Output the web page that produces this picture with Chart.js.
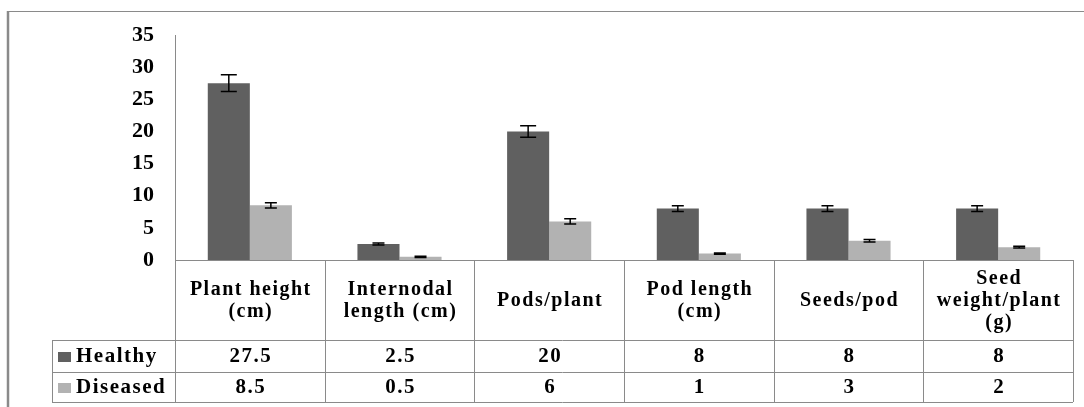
<!DOCTYPE html>
<html>
<head>
<meta charset="utf-8">
<script src="https://cdn.jsdelivr.net/npm/chart.js@4"></script>
<style>
  html,body{margin:0;padding:0;background:#fff;}
  #wrap{width:1084px;height:407px;position:relative;}
</style>
</head>
<body>
<div id="wrap"><canvas id="chart"></canvas></div>
<script>
// categories (header cells of the table, one array entry per line)
const categories=[['Plant height','(cm)'],['Internodal','length (cm)'],['Pods/plant'],['Pod length','(cm)'],['Seeds/pod'],['Seed','weight/plant','(g)']];
const seriesNames=['Healthy','Diseased'];
const healthy=[27.5,2.5,20,8,8,8];
const diseased=[8.5,0.5,6,1,3,2];
// error bar half-lengths
const healthyErr=[1.3,0.15,0.9,0.45,0.45,0.45];
const diseasedErr=[0.4,0.1,0.4,0.1,0.2,0.15];
const yTicks=[0,5,10,15,20,25,30,35];

const darkGray='#606060';
const lightGray='#b2b2b2';
const lineGray='#8a8a8a';
const serif='"Liberation Serif","Times New Roman",serif';

//draws the error bars on top of each bar
const errorBars={
  id:'errorBars',
  afterDatasetsDraw(chart){
    const ctx=chart.ctx;
    const y=chart.scales.y;
    const errs=[healthyErr,diseasedErr];
    ctx.save();
    ctx.strokeStyle='#000';
    ctx.lineWidth=1.5;
    chart.data.datasets.forEach((ds,i)=>{
      const meta=chart.getDatasetMeta(i);
      meta.data.forEach((bar,j)=>{
        const v=ds.data[j];
        const e=errs[i][j];
        const top=y.getPixelForValue(v+e);
        const bot=y.getPixelForValue(v-e);
        const cap=e>0.6?8:6;
        ctx.beginPath();
        ctx.moveTo(bar.x,top);ctx.lineTo(bar.x,bot);
        ctx.moveTo(bar.x-cap,top);ctx.lineTo(bar.x+cap,top);
        ctx.moveTo(bar.x-cap,bot);ctx.lineTo(bar.x+cap,bot);
        ctx.stroke();
      });
    });
    ctx.restore();
  }
};

//draws the data table under the plot, plus the outer frame
const dataTable={
  id:'dataTable',
  afterDraw(chart){
    const ctx=chart.ctx;
    const area=chart.chartArea;
    const x=chart.scales.x;
    const n=categories.length;
    const step=(area.right-area.left)/n;
    const headTop=area.bottom, headBot=340, row1=372, row2=402;
    const legLeft=52;
    ctx.save();
    ctx.strokeStyle=lineGray;
    ctx.lineWidth=1;
    const hl=(x1,x2,yy)=>{ctx.beginPath();ctx.moveTo(x1,yy+0.5);ctx.lineTo(x2,yy+0.5);ctx.stroke();};
    const vl=(xx,y1,y2)=>{ctx.beginPath();ctx.moveTo(Math.round(xx)+0.5,y1);ctx.lineTo(Math.round(xx)+0.5,y2);ctx.stroke();};
    hl(area.left,area.right,headTop);
    hl(legLeft,area.right,headBot);
    hl(legLeft,area.right,row1);
    hl(legLeft,area.right,row2);
    for(let i=0;i<=n;i++){
      vl(area.left+i*step,headTop,row2);
    }
    vl(legLeft,headBot,row2);

    ctx.fillStyle='#000';
    ctx.textAlign='center';
    ctx.textBaseline='middle';
    ctx.letterSpacing='1.5px';
    ctx.font='bold 20px '+serif;
    const midHead=(headTop+headBot)/2;
    categories.forEach((lines,i)=>{
      const cx=x.getPixelForValue(i);
      const lh=22;
      lines.forEach((t,k)=>{
        ctx.fillText(t,cx+1,midHead+(k-(lines.length-1)/2)*lh+1);
      });
    });
    const rows=[[healthy,headBot,row1],[diseased,row1,row2]];
    rows.forEach((r,ri)=>{
      const cy=(r[1]+r[2])/2+1;
      ctx.textAlign='center';
      ctx.font='bold 21px '+serif;
      r[0].forEach((v,i)=>{
        ctx.fillText(String(v),x.getPixelForValue(i)+1,cy);
      });
      ctx.fillStyle=ri===0?darkGray:lightGray;
      ctx.fillRect(58,Math.round(cy-5),13,10);
      ctx.fillStyle='#000';
      ctx.textAlign='left';
      ctx.font='bold 21px '+serif;
      ctx.fillText(seriesNames[ri],76,cy);
    });

    // outer frame
    ctx.strokeStyle=lineGray;
    ctx.lineWidth=1;
    hl(8,1084,11);
    ctx.lineWidth=2.5;
    ctx.beginPath();ctx.moveTo(8,11);ctx.lineTo(8,407);ctx.stroke();
    ctx.restore();
  }
};

const ctx=document.getElementById('chart').getContext('2d');
const chart=new Chart(ctx,{
  type:'bar',
  data:{
    labels:categories.map(c=>c.join(' ')),
    datasets:[
      {label:seriesNames[0],data:healthy,backgroundColor:darkGray,borderWidth:0},
      {label:seriesNames[1],data:diseased,backgroundColor:lightGray,borderWidth:0}
    ]
  },
  options:{
    responsive:true,
    maintainAspectRatio:false,
    animation:false,
    datasets:{bar:{categoryPercentage:0.562,barPercentage:1}},
    layout:{padding:{top:35,right:11,bottom:147,left:0}},
    plugins:{legend:{display:false},tooltip:{enabled:false}},
    scales:{
      x:{display:false},
      y:{
        min:0,max:35,
        afterBuildTicks(scale){scale.ticks=yTicks.map(v=>({value:v}));},
        afterFit(scale){scale.width=175;},
        grid:{display:false,drawTicks:false},
        border:{display:true,color:lineGray,width:1},
        ticks:{padding:21,color:'#000',font:{family:serif,size:22,weight:'bold'}}
      }
    }
  },
  plugins:[errorBars,dataTable]
});
</script>
</body>
</html>
